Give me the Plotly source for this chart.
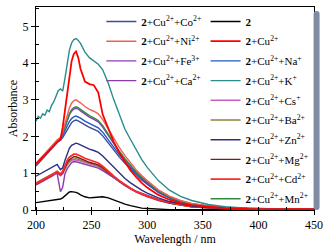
import plotly.graph_objects as go

# common wavelength grid (nm)
W = [200, 205, 210, 215, 219, 222, 224, 226, 228, 230, 232, 234, 236, 238, 240, 244, 248, 252, 256, 260,
     265, 270, 275, 280, 285, 290, 295, 300, 310, 320, 330, 340, 355, 370, 390, 420, 450]

# teal (K+) has its own, denser grid at short wavelengths
W_K = [200, 202, 204, 206, 208, 210, 212, 214, 216, 218, 220, 222, 224, 226, 228, 230, 232, 234, 236, 238, 240,
       244, 248, 252, 256, 260, 265, 270, 275, 280, 285, 290, 295, 300, 310, 320, 330, 340, 355, 370, 390, 420, 450]

A_2 = [0.20, 0.22, 0.24, 0.26, 0.28, 0.30, 0.33, 0.39, 0.45, 0.49, 0.50, 0.50, 0.48, 0.45, 0.41, 0.36, 0.33, 0.34, 0.36, 0.36,
       0.33, 0.27, 0.21, 0.16, 0.12, 0.08, 0.05, 0.04, 0.02, 0.01, 0.01, 0.01, 0.01, 0.01, 0.01, 0.01, 0.01]
A_Cu = [1.25, 1.40, 1.55, 1.72, 1.85, 1.92, 2.25, 2.70, 3.20, 3.62, 4.05, 4.25, 4.32, 4.15, 3.85, 3.50, 3.43, 3.40, 3.20, 2.60,
        2.20, 1.85, 1.55, 1.30, 1.08, 0.90, 0.74, 0.61, 0.41, 0.28, 0.19, 0.13, 0.08, 0.05, 0.03, 0.02, 0.02]
A_K = [2.42, 2.55, 2.50, 2.62, 2.58, 2.72, 2.68, 2.85, 2.95, 3.12, 3.25, 3.30, 3.24, 3.58, 4.02, 4.35, 4.55, 4.64, 4.67, 4.62, 4.54,
       4.30, 4.15, 4.06, 3.97, 3.82, 3.45, 3.00, 2.58, 2.20, 1.92, 1.64, 1.38, 1.16, 0.80, 0.54, 0.37, 0.26, 0.15, 0.09, 0.05, 0.03, 0.02]
A_Co = [1.20, 1.36, 1.52, 1.70, 1.84, 1.90, 1.97, 2.08, 2.20, 2.30, 2.38, 2.43, 2.45, 2.43, 2.40, 2.32, 2.25, 2.20, 2.14, 2.02,
        1.82, 1.62, 1.44, 1.27, 1.11, 0.96, 0.82, 0.70, 0.48, 0.33, 0.22, 0.15, 0.09, 0.06, 0.04, 0.02, 0.02]
A_Na = [1.24, 1.40, 1.56, 1.74, 1.88, 1.95, 2.03, 2.16, 2.30, 2.41, 2.49, 2.54, 2.56, 2.54, 2.50, 2.42, 2.35, 2.30, 2.24, 2.12,
        1.91, 1.70, 1.50, 1.32, 1.15, 0.99, 0.85, 0.72, 0.49, 0.33, 0.22, 0.15, 0.09, 0.06, 0.04, 0.02, 0.02]
A_Fe = [1.26, 1.42, 1.58, 1.76, 1.90, 1.97, 2.08, 2.25, 2.44, 2.59, 2.69, 2.75, 2.77, 2.75, 2.70, 2.61, 2.53, 2.47, 2.40, 2.26,
        2.03, 1.80, 1.58, 1.38, 1.20, 1.03, 0.88, 0.75, 0.52, 0.36, 0.25, 0.17, 0.11, 0.07, 0.04, 0.03, 0.02]
A_Mn = [1.25, 1.41, 1.57, 1.75, 1.89, 1.96, 2.08, 2.26, 2.46, 2.62, 2.73, 2.79, 2.81, 2.79, 2.74, 2.65, 2.57, 2.51, 2.44, 2.30,
        2.06, 1.82, 1.60, 1.40, 1.21, 1.04, 0.89, 0.76, 0.52, 0.36, 0.24, 0.16, 0.10, 0.06, 0.04, 0.02, 0.02]
A_Ni = [1.27, 1.43, 1.59, 1.77, 1.91, 1.98, 2.12, 2.34, 2.58, 2.78, 2.91, 2.98, 3.00, 2.97, 2.92, 2.82, 2.74, 2.69, 2.62, 2.46,
        2.20, 1.94, 1.70, 1.48, 1.28, 1.10, 0.94, 0.80, 0.55, 0.38, 0.26, 0.18, 0.11, 0.07, 0.04, 0.03, 0.02]
A_Cd = [0.72, 0.80, 0.88, 0.97, 1.05, 0.98, 1.05, 1.22, 1.35, 1.44, 1.49, 1.52, 1.52, 1.50, 1.47, 1.41, 1.36, 1.33, 1.28, 1.19,
        1.05, 0.92, 0.80, 0.69, 0.59, 0.50, 0.43, 0.38, 0.28, 0.20, 0.14, 0.09, 0.06, 0.04, 0.03, 0.02, 0.02]
A_Mg = [0.70, 0.78, 0.86, 0.95, 1.03, 0.96, 1.02, 1.17, 1.29, 1.37, 1.42, 1.45, 1.45, 1.43, 1.40, 1.35, 1.30, 1.27, 1.23, 1.15,
        1.02, 0.90, 0.78, 0.68, 0.58, 0.50, 0.43, 0.37, 0.27, 0.19, 0.13, 0.09, 0.06, 0.04, 0.03, 0.02, 0.02]
A_Ba = [0.74, 0.82, 0.90, 0.98, 1.05, 0.97, 1.01, 1.14, 1.25, 1.33, 1.38, 1.40, 1.40, 1.38, 1.36, 1.31, 1.27, 1.24, 1.20, 1.12,
        1.00, 0.88, 0.77, 0.67, 0.58, 0.50, 0.43, 0.37, 0.27, 0.19, 0.13, 0.09, 0.06, 0.04, 0.03, 0.02, 0.02]
A_Cs = [0.68, 0.76, 0.84, 0.93, 1.01, 0.93, 0.98, 1.11, 1.22, 1.30, 1.35, 1.37, 1.37, 1.35, 1.33, 1.29, 1.25, 1.22, 1.18, 1.10,
        0.99, 0.87, 0.76, 0.66, 0.57, 0.49, 0.42, 0.36, 0.26, 0.19, 0.13, 0.09, 0.06, 0.04, 0.03, 0.02, 0.02]
A_Ca = [0.72, 0.80, 0.88, 0.97, 1.00, 0.50, 0.62, 0.98, 1.12, 1.22, 1.29, 1.32, 1.32, 1.30, 1.28, 1.24, 1.20, 1.17, 1.14, 1.07,
        0.97, 0.87, 0.77, 0.68, 0.59, 0.51, 0.45, 0.39, 0.29, 0.21, 0.15, 0.11, 0.07, 0.05, 0.03, 0.02, 0.02]
A_Zn = [0.92, 1.00, 1.08, 1.17, 1.24, 1.10, 1.15, 1.35, 1.55, 1.68, 1.76, 1.80, 1.82, 1.80, 1.77, 1.71, 1.66, 1.62, 1.57, 1.47,
        1.31, 1.15, 1.00, 0.86, 0.74, 0.63, 0.54, 0.46, 0.33, 0.23, 0.16, 0.11, 0.07, 0.05, 0.03, 0.02, 0.02]

X_TICKS = [200, 250, 300, 350, 400, 450]
Y_TICKS = [0, 1, 2, 3, 4, 5]

def lab(ion):
    return "<b>2</b>+Cu<sup>2+</sup>+" + ion if ion else "<b>2</b>+Cu<sup>2+</sup>"

# (x, y, label, colour, legend, rank, width)
series = [
    (W, A_2, "<b>2</b>", "#000000", "legend", 1, 1.4),
    (W, A_Cs, lab("Cs<sup>+</sup>"), "#c860c0", "legend", 5, 1.4),
    (W, A_Ba, lab("Ba<sup>2+</sup>"), "#8c8040", "legend", 6, 1.4),
    (W, A_Mg, lab("Mg<sup>2+</sup>"), "#7a1c1c", "legend", 8, 1.4),
    (W, A_Ca, lab("Ca<sup>2+</sup>"), "#8a3ca8", "legend2", 4, 1.4),
    (W, A_Cd, lab("Cd<sup>2+</sup>"), "#ff2a2a", "legend", 9, 1.8),
    (W, A_Zn, lab("Zn<sup>2+</sup>"), "#2e2e80", "legend", 7, 1.4),
    (W, A_Co, lab("Co<sup>2+</sup>"), "#3c4c9c", "legend2", 1, 1.4),
    (W, A_Na, lab("Na<sup>+</sup>"), "#2058c8", "legend", 3, 1.4),
    (W, A_Fe, lab("Fe<sup>3+</sup>"), "#8a3cb8", "legend2", 3, 1.4),
    (W, A_Mn, lab("Mn<sup>2+</sup>"), "#2e8b40", "legend", 10, 1.4),
    (W, A_Ni, lab("Ni<sup>2+</sup>"), "#f06050", "legend2", 2, 1.4),
    (W_K, A_K, lab("K<sup>+</sup>"), "#2a8c8c", "legend", 4, 1.4),
    (W, A_Cu, lab(None), "#ff0000", "legend", 2, 1.8),
]

fig = go.Figure()
for i, (x, y, name, col, leg, rank, w) in enumerate(series):
    fig.add_trace(go.Scatter(x=x, y=y, mode="lines", name=name, legend=leg, legendrank=rank,
                             legendgroup="g%d" % i, line=dict(color=col, width=w)))

font = "Liberation Serif"
axis_common = dict(showline=True, linecolor="black", linewidth=1, mirror=True, showgrid=False, zeroline=False,
                   ticks="outside", ticklen=4, tickcolor="black", tickfont=dict(family=font, size=12, color="black"))
fig.update_layout(
    width=332, height=249,
    margin=dict(l=36, r=18, t=6, b=35),
    paper_bgcolor="white", plot_bgcolor="white",
    font=dict(family=font, color="black"),
    xaxis=dict(range=[200, 450], tickvals=X_TICKS,
               title=dict(text="Wavelength / nm", font=dict(family=font, size=12), standoff=2),
               minor=dict(ticks="inside", ticklen=3, dtick=25, tickcolor="black"), **axis_common),
    yaxis=dict(range=[0, 5.53], tickvals=Y_TICKS,
               title=dict(text="Absorbance", font=dict(family=font, size=12), standoff=2),
               minor=dict(ticks="inside", ticklen=3, dtick=0.5, tickcolor="black"), **axis_common),
    legend=dict(x=0.61, y=1.0, xanchor="left", yanchor="top", bgcolor="rgba(0,0,0,0)",
                font=dict(family=font, size=11, color="black"), tracegroupgap=0.7, itemwidth=30),
    legend2=dict(x=0.235, y=1.0, xanchor="left", yanchor="top", bgcolor="rgba(0,0,0,0)",
                 font=dict(family=font, size=11, color="black"), tracegroupgap=0.7, itemwidth=30),
)
fig.write_html("out.html", config={"displayModeBar": False},
               post_script="document.body.style.margin='0';")
